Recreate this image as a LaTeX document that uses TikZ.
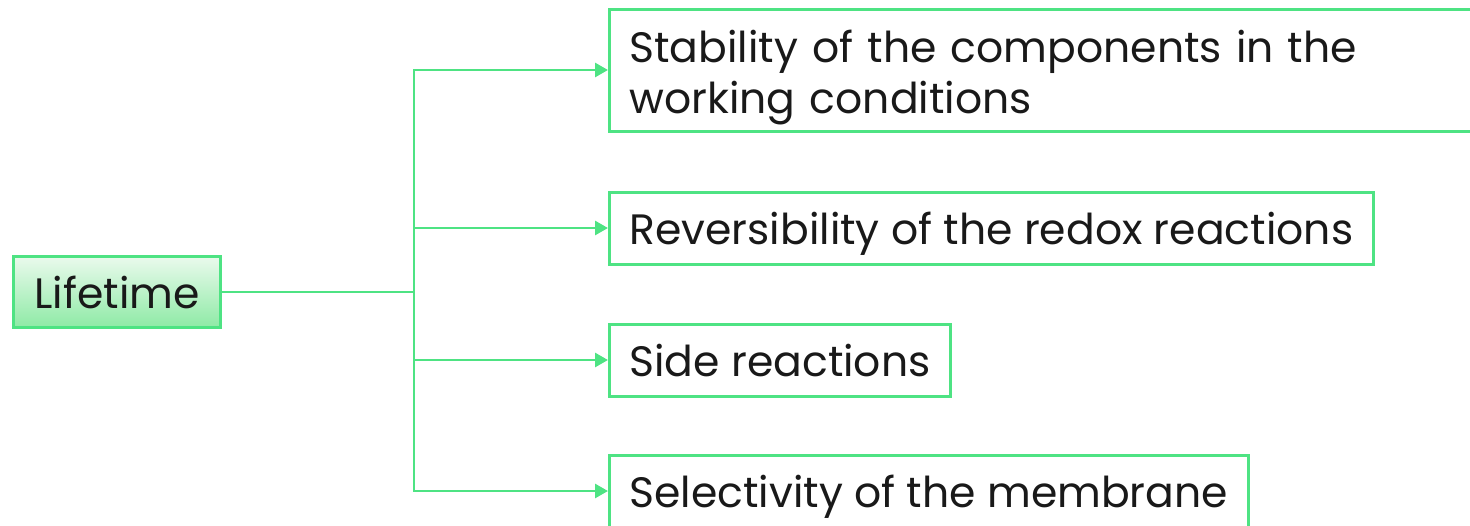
\documentclass[tikz,border=0pt]{standalone}
\usepackage{fontspec}
\setmainfont{Poppins}
\usetikzlibrary{arrows.meta}
\definecolor{lgreen}{HTML}{4EE383}
\definecolor{ftop}{HTML}{EAFAEC}
\definecolor{fbot}{HTML}{8EEAA6}

\begin{document}
\begin{tikzpicture}[x=1pt,y=-1pt,
    box/.style={draw=lgreen,line width=3pt,anchor=west,inner xsep=20pt,inner ysep=6pt,minimum height=72pt,
        font=\fontsize{42.5}{51}\selectfont,text=black!90},
    onebox/.style={box,text height=40pt,text depth=8pt},
    root/.style={box,anchor=center,top color=ftop,bottom color=fbot,minimum height=71pt,inner xsep=21pt},
    arr/.style={draw=lgreen,line width=2.8pt,-{Triangle[length=13pt,width=14pt]}}]
    \useasboundingbox (0,0) rectangle (1470,525);
    \clip (0,0) rectangle (1470,525);

    \node (life) at (117,292) [root] {Lifetime};
    \node (stab) at (608,70) [box,inner ysep=2pt,minimum height=122pt,text width=900pt,align=left]
        {\rule{0pt}{48pt}Stability of the components in the\\working conditions};
    \node (rev) at (608,228) [onebox] {Reversibility of the redox reactions};
    \node (side) at (608,360) [onebox] {Side reactions};
    \node (sel) at (608,491) [onebox] {Selectivity of the membrane};

    \coordinate (fork) at (414,292);

    \draw[arr] (life.east) -- (fork) |- (stab.west);
    \draw[arr] (fork) |- (rev.west);
    \draw[arr] (fork) |- (side.west);
    \draw[arr] (fork) |- (sel.west);

\end{tikzpicture}
\end{document}
